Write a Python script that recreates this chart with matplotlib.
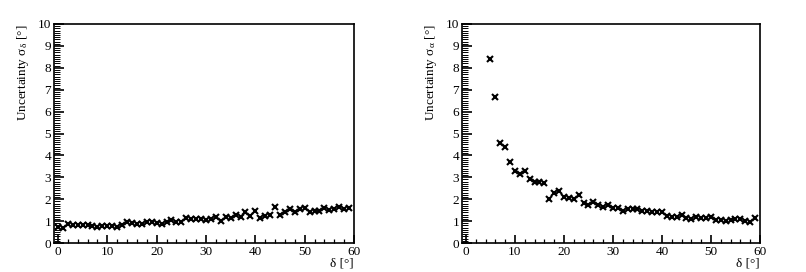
import numpy as np
import matplotlib.pyplot as plt
from matplotlib.ticker import MultipleLocator

# delta values [deg]
delta_left = list(range(0, 60))
sigma_delta = [0.75, 0.70, 0.85, 0.83, 0.82, 0.83, 0.83, 0.78, 0.75, 0.78,
               0.79, 0.78, 0.75, 0.82, 0.95, 0.93, 0.86, 0.87, 0.94, 0.94,
               0.91, 0.89, 0.97, 1.03, 0.98, 0.96, 1.12, 1.10, 1.09, 1.10,
               1.06, 1.08, 1.20, 1.02, 1.18, 1.13, 1.30, 1.18, 1.40, 1.22,
               1.44, 1.15, 1.25, 1.30, 1.65, 1.30, 1.43, 1.53, 1.40, 1.55,
               1.58, 1.43, 1.45, 1.48, 1.58, 1.52, 1.57, 1.65, 1.55, 1.62]

delta_right = list(range(5, 60))
sigma_alpha = [8.40, 6.65, 4.55, 4.40, 3.72, 3.30, 3.15, 3.28, 2.90, 2.78,
               2.78, 2.72, 2.02, 2.30, 2.37, 2.10, 2.05, 2.02, 2.20, 1.82,
               1.72, 1.85, 1.75, 1.65, 1.72, 1.60, 1.60, 1.48, 1.55, 1.55,
               1.53, 1.48, 1.45, 1.42, 1.42, 1.42, 1.25, 1.20, 1.20, 1.30,
               1.15, 1.10, 1.20, 1.15, 1.15, 1.17, 1.07, 1.05, 1.02, 1.05,
               1.08, 1.08, 1.00, 0.95, 1.13]

plt.rcParams['font.family'] = ['Liberation Serif', 'DejaVu Serif']
plt.rcParams['mathtext.fontset'] = 'stix'

fig = plt.figure(figsize=(8.06, 2.72), dpi=100)
W, H = 806, 272


def panel(left_px, width_px, x, y, ylabel):
    ax = fig.add_axes([left_px / W, 29 / H, width_px / W, 219 / H])
    ax.plot(x, y, linestyle='none', marker='x', color='black',
            markersize=4.3, markeredgewidth=1.5)
    ax.set_xlim(-0.8, 60)
    ax.set_ylim(0, 10)
    ax.xaxis.set_major_locator(MultipleLocator(10))
    ax.xaxis.set_minor_locator(MultipleLocator(2))
    ax.yaxis.set_major_locator(MultipleLocator(1))
    ax.yaxis.set_minor_locator(MultipleLocator(0.1))
    ax.tick_params(which='both', direction='in', labelsize=9.5,
                   pad=2, top=False, right=False)
    ax.tick_params(which='major', width=1.2)
    ax.tick_params(which='minor', width=0.7)
    ax.tick_params(which='minor', axis='x', width=0.9)
    ax.tick_params(which='major', axis='y', length=7)
    ax.tick_params(which='minor', axis='y', length=4)
    ax.tick_params(which='major', axis='x', length=6)
    ax.tick_params(which='minor', axis='x', length=3)
    for s in ax.spines.values():
        s.set_linewidth(1.2)
    ax.set_xlabel('δ [°]', fontsize=9.5, loc='right', labelpad=0)
    ax.set_ylabel(ylabel, fontsize=9.5, loc='top', labelpad=5)
    return ax


panel(54, 300, delta_left, sigma_delta, r'Uncertainty σ$_{\mathregular{δ}}$ [°]')
panel(462, 298, delta_right, sigma_alpha, r'Uncertainty σ$_{\mathregular{α}}$ [°]')

fig.savefig('out.png', dpi=100)
